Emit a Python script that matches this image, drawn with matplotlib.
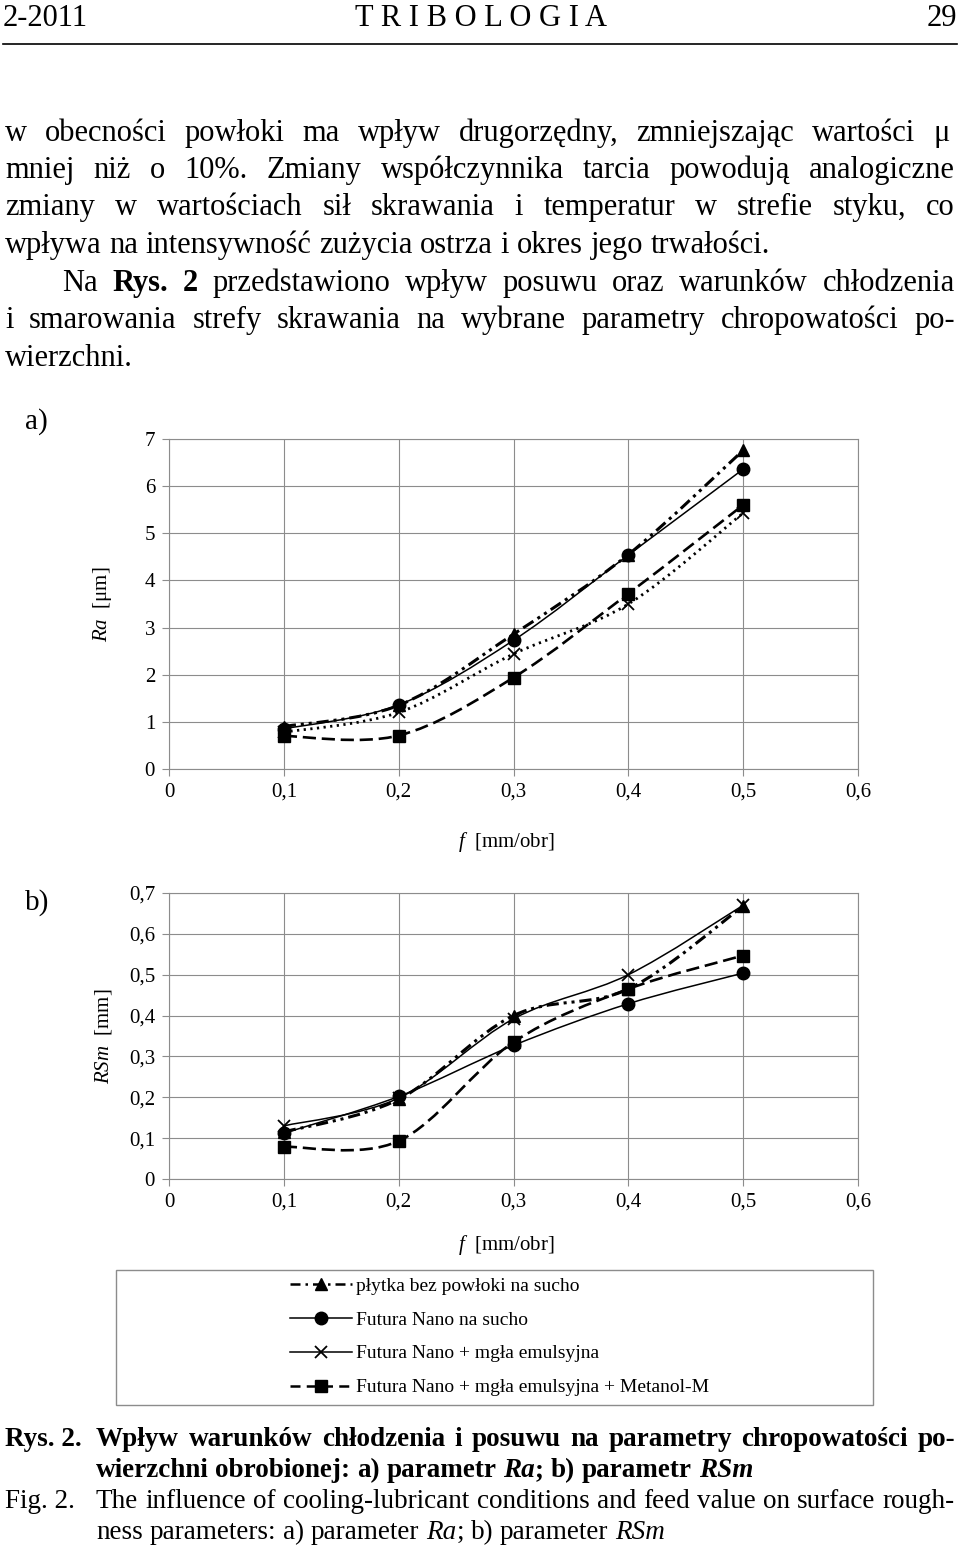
import numpy as np
import matplotlib.pyplot as plt
from matplotlib.path import Path
from matplotlib.patches import PathPatch, Rectangle
from matplotlib.lines import Line2D

plt.rcParams['font.family'] = ['Liberation Serif', 'DejaVu Serif']
plt.rcParams['mathtext.fontset'] = 'custom'
plt.rcParams['mathtext.rm'] = 'Liberation Serif'
plt.rcParams['mathtext.it'] = 'Liberation Serif:italic'

# dane z wykresow
f = [0.1, 0.2, 0.3, 0.4, 0.5]
ra_tri = [0.90, 1.35, 2.86, 4.55, 6.76]
ra_circ = [0.85, 1.36, 2.73, 4.54, 6.36]
ra_x = [0.78, 1.20, 2.44, 3.50, 5.43]
ra_sq = [0.70, 0.71, 1.94, 3.72, 5.60]

rsm_tri = [0.115, 0.195, 0.400, 0.465, 0.668]
rsm_circ = [0.112, 0.202, 0.327, 0.429, 0.504]
rsm_x = [0.130, 0.198, 0.392, 0.500, 0.670]
rsm_sq = [0.079, 0.093, 0.335, 0.465, 0.547]

f_ticks = ['0', '0,1', '0,2', '0,3', '0,4', '0,5', '0,6']
ra_ticks = ['0', '1', '2', '3', '4', '5', '6', '7']
rsm_ticks = ['0', '0,1', '0,2', '0,3', '0,4', '0,5', '0,6', '0,7']
labels = ['płytka bez powłoki na sucho', 'Futura Nano na sucho',
          'Futura Nano + mgła emulsyjna',
          'Futura Nano + mgła emulsyjna + Metanol-M']

W, H = 960, 1548
fig = plt.figure(figsize=(W / 100, H / 100), dpi=100)
renderer = fig.canvas.get_renderer()

R = {}
B = {'weight': 'bold'}
I = {'style': 'italic'}
BI = {'weight': 'bold', 'style': 'italic'}


def put(x, y, s, size, **kw):
    return fig.text(x / W, 1 - y / H, s, fontsize=size, va='baseline', **kw)


def width(t):
    return t.get_window_extent(renderer).width


def words_of(segs):
    words = [[]]
    for s, st in segs:
        for i, p in enumerate(s.split(' ')):
            if i > 0:
                words.append([])
            if p:
                words[-1].append((p, st))
    return [w for w in words if w]


def line(x0, y, segs, size, x1=None):
    words = words_of(segs)
    a = put(0, y, 'a a', size)
    b = put(0, y, 'aa', size)
    sp = width(a) - width(b)
    a.remove()
    b.remove()
    objs, widths = [], []
    for word in words:
        runs, w = [], 0
        for s, st in word:
            t = put(x0, y, s, size, **st)
            runs.append((t, w))
            w += width(t)
        objs.append(runs)
        widths.append(w)
    gap = sp
    if x1 is not None and len(words) > 1:
        gap = (x1 - x0 - sum(widths)) / (len(words) - 1)
    x = x0
    for runs, w in zip(objs, widths):
        for t, off in runs:
            t.set_x((x + off) / W)
        x += w + gap


# naglowek
put(3, 26, '2-2011', 22)
put(481, 26, 'T R I B O L O G I A', 22, ha='center')
put(957, 26, '29', 22, ha='right')
fig.add_artist(Line2D([3 / W, 957 / W], [1 - 44 / H, 1 - 44 / H], color='k', lw=1.2))

# tekst
bs = 22
line(5, 141, [('w obecności powłoki ma wpływ drugorzędny, zmniejszając wartości μ', R)], bs, 950)
line(5, 178, [('mniej niż o 10%. Zmiany współczynnika tarcia powodują analogiczne', R)], bs, 955)
line(5, 215, [('zmiany w wartościach sił skrawania i temperatur w strefie styku, co', R)], bs, 955)
line(5, 253, [('wpływa na intensywność zużycia ostrza i okres jego trwałości.', R)], bs)
line(62, 291, [('Na ', R), ('Rys. 2', B), (' przedstawiono wpływ posuwu oraz warunków chłodzenia', R)], bs, 955)
line(5, 328, [('i smarowania strefy skrawania na wybrane parametry chropowatości po-', R)], bs, 955)
line(5, 366, [('wierzchni.', R)], bs)

fig.text(25 / W, 1 - 422 / H, 'a)', fontsize=21, va='center')
fig.text(25 / W, 1 - 903 / H, 'b)', fontsize=21, va='center')


def smooth(ax, x, y, **kw):
    x = np.asarray(x, float)
    y = np.asarray(y, float)
    n = len(x)
    verts = [(x[0], y[0])]
    codes = [Path.MOVETO]
    for i in range(n - 1):
        i0 = max(i - 1, 0)
        i3 = min(i + 2, n - 1)
        c1 = (x[i] + (x[i + 1] - x[i0]) / 6, y[i] + (y[i + 1] - y[i0]) / 6)
        c2 = (x[i + 1] - (x[i3] - x[i]) / 6, y[i + 1] - (y[i3] - y[i]) / 6)
        verts += [c1, c2, (x[i + 1], y[i + 1])]
        codes += [Path.CURVE4] * 3
    p = PathPatch(Path(verts, codes), fill=False, edgecolor='k', zorder=3, **kw)
    p.set_capstyle('butt')
    ax.add_patch(p)


dashdot2 = (0, (4, 1.6, 1, 1.6, 1, 1.6))
dotted = (0, (0.8, 1.6))
dashed = (0, (5, 2.2))

axA = fig.add_axes([169 / W, 1 - 769 / H, 689 / W, 330 / H])
axB = fig.add_axes([169 / W, 1 - 1179 / H, 689 / W, 286 / H])

smooth(axA, f, ra_tri, lw=2.2, linestyle=dashdot2)
smooth(axA, f, ra_circ, lw=1.1, linestyle='-')
smooth(axA, f, ra_x, lw=2.0, linestyle=dotted)
smooth(axA, f, ra_sq, lw=1.9, linestyle=dashed)
axA.plot(f, ra_tri, ls='none', marker='^', ms=9, color='k', zorder=4)
axA.plot(f, ra_circ, ls='none', marker='o', ms=9, color='k', zorder=4)
axA.plot(f, ra_x, ls='none', marker='x', ms=9, mew=1.3, color='k', zorder=4)
axA.plot(f, ra_sq, ls='none', marker='s', ms=8, color='k', zorder=4)

smooth(axB, f, rsm_tri, lw=2.2, linestyle=dashdot2)
smooth(axB, f, rsm_circ, lw=1.1, linestyle='-')
smooth(axB, f, rsm_x, lw=1.1, linestyle='-')
smooth(axB, f, rsm_sq, lw=1.9, linestyle=dashed)
axB.plot(f, rsm_tri, ls='none', marker='^', ms=9, color='k', zorder=4)
axB.plot(f, rsm_circ, ls='none', marker='o', ms=9, color='k', zorder=4)
axB.plot(f, rsm_x, ls='none', marker='x', ms=9, mew=1.3, color='k', zorder=4)
axB.plot(f, rsm_sq, ls='none', marker='s', ms=8, color='k', zorder=4)

gc = '#8c8c8c'
for ax, yt, ymax in ((axA, ra_ticks, 7), (axB, rsm_ticks, 0.7)):
    ax.set_xlim(0, 0.6)
    ax.set_ylim(0, ymax)
    ax.set_xticks(np.linspace(0, 0.6, len(f_ticks)))
    ax.set_xticklabels(f_ticks)
    ax.set_yticks(np.linspace(0, ymax, len(yt)))
    ax.set_yticklabels(yt)
    ax.grid(True, color=gc, lw=0.8)
    ax.set_axisbelow(True)
    for s in ax.spines.values():
        s.set_color(gc)
        s.set_linewidth(0.8)
    ax.tick_params(length=5, color=gc, width=0.8, labelsize=15, pad=5)
    ax.set_xlabel(r'$f$  [mm/obr]', fontsize=15)

axA.set_ylabel(r'$Ra$  [μm]', fontsize=15)
axB.set_ylabel(r'$RSm$  [mm]', fontsize=15)
axA.yaxis.set_label_coords(-0.08, 0.5)
axB.yaxis.set_label_coords(-0.08, 0.5)
axA.xaxis.set_label_coords(0.49, -0.185)
axB.xaxis.set_label_coords(0.49, -0.19)

# legenda
handles = [
    Line2D([], [], color='k', lw=1.8, ls=(0, (4, 2, 1, 2)), marker='^', ms=9),
    Line2D([], [], color='k', lw=1.1, ls='-', marker='o', ms=9),
    Line2D([], [], color='k', lw=1.1, ls='-', marker='x', ms=9, mew=1.3),
    Line2D([], [], color='k', lw=1.8, ls=(0, (4, 2.5)), marker='s', ms=8),
]
fig.legend(handles, labels, loc='upper left', bbox_to_anchor=(290 / W, 1 - 1277 / H),
           frameon=False, fontsize=14, handlelength=3.2, handletextpad=0.2,
           labelspacing=0.84, borderaxespad=0, borderpad=0)
fig.add_artist(Rectangle((116 / W, 1 - 1405 / H), (873 - 116) / W, (1405 - 1270) / H,
                         transform=fig.transFigure, fill=False, ec=gc, lw=1))

# podpis
cs = 19.5
put(5, 1446, 'Rys. 2.', cs, weight='bold')
line(96, 1446, [('Wpływ warunków chłodzenia i posuwu na parametry chropowatości po-', B)], cs, 955)
line(96, 1477, [('wierzchni obrobionej: a) parametr ', B), ('Ra', BI), ('; b) parametr ', B), ('RSm', BI)], cs)
put(5, 1508, 'Fig. 2.', cs)
line(96, 1508, [('The influence of cooling-lubricant conditions and feed value on surface rough-', R)], cs, 955)
line(96, 1539, [('ness parameters: a) parameter ', R), ('Ra', I), ('; b) parameter ', R), ('RSm', I)], cs)

fig.savefig('out.png', dpi=100)
